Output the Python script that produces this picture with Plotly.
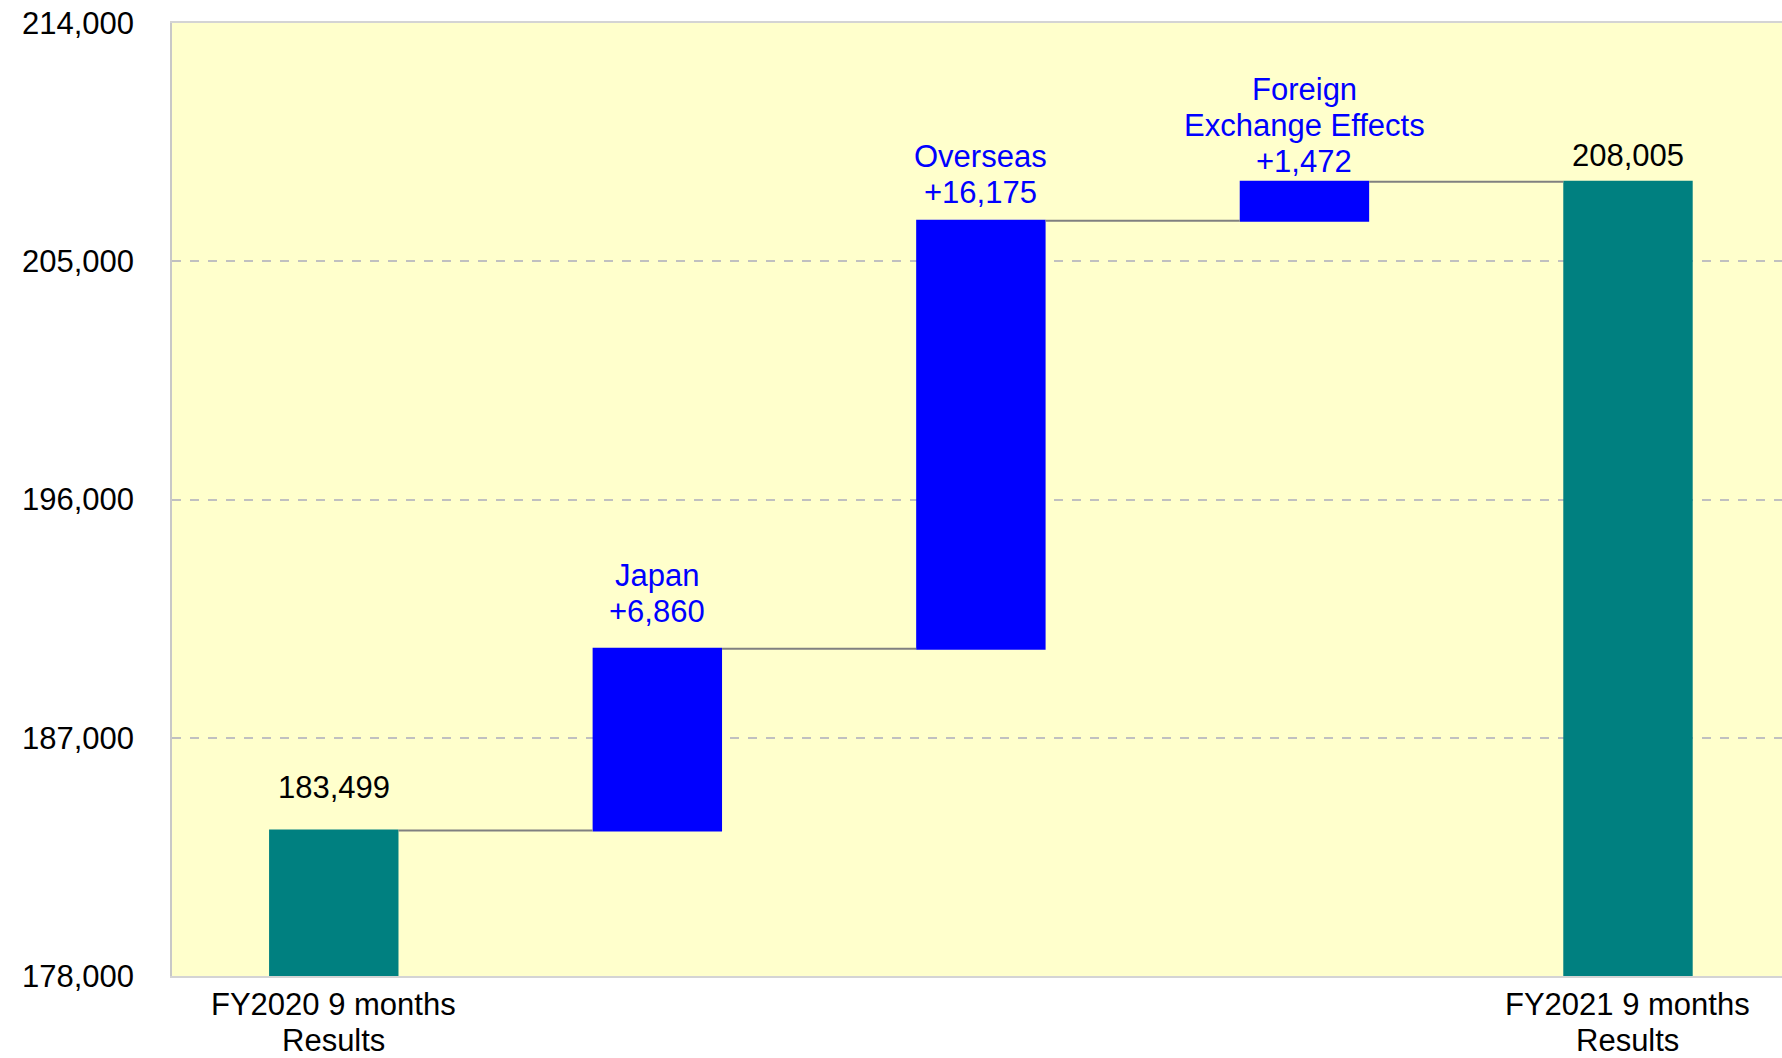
import plotly.graph_objects as go

# Net sales bridge: FY2020 9 months -> FY2021 9 months
categories = ["FY2020 9 months<br>Results", "Japan", "Overseas",
              "Foreign<br>Exchange Effects", "FY2021 9 months<br>Results"]
measures = ["absolute", "relative", "relative", "relative", "absolute"]
values = [183499, 6860, 16175, 1472, 208005]
y_ticks = [178000, 187000, 196000, 205000, 214000]

TEAL = "#008080"
BLUE = "#0000FF"
FONT = "Liberation Sans, Arial, sans-serif"
FS = 31
LINE_H = 36  # pixel spacing between stacked text lines

x = list(range(len(values)))

fig = go.Figure(go.Waterfall(
    x=x,
    y=values,
    measure=measures,
    increasing=dict(marker=dict(color=BLUE)),
    decreasing=dict(marker=dict(color=BLUE)),
    totals=dict(marker=dict(color=TEAL)),
    connector=dict(line=dict(color="#808080", width=2), mode="between"),
    hoverinfo="skip",
))

# running tops of each bar, used to place the value labels
tops = []
level = 0
for m, v in zip(measures, values):
    level = v if m == "absolute" else level + v
    tops.append(level)


def add_lines(lines, x0, y0, base_shift, color, yref="y"):
    """Stack text lines upward from base_shift (pixels, last line centre)."""
    n = len(lines)
    for k, line in enumerate(lines):
        fig.add_annotation(
            x=x0, y=y0, xref="x", yref=yref, text=line, showarrow=False,
            xanchor="center", yanchor="middle", borderpad=0,
            yshift=base_shift + (n - 1 - k) * LINE_H,
            font=dict(family=FONT, size=FS, color=color),
        )


# value labels above each bar (offset of the last line's centre, px)
label_shift = [43, 37, 28, 20, 26]
for i, (m, v, cat) in enumerate(zip(measures, values, categories)):
    if m == "absolute":
        add_lines([f"{v:,}"], i, tops[i], label_shift[i], "black")
    else:
        add_lines(cat.split("<br>") + [f"+{v:,}"], i, tops[i], label_shift[i], BLUE)

# category labels under the total bars
for i, (m, cat) in enumerate(zip(measures, categories)):
    if m == "absolute":
        add_lines(cat.split("<br>"), i, 0, -64, "black", yref="paper")

fig.update_layout(
    width=1782, height=1058,
    margin=dict(l=172, r=0, t=23, b=82),
    paper_bgcolor="white",
    plot_bgcolor="#FFFFCC",
    waterfallgap=0.6,
    showlegend=False,
    font=dict(family=FONT, size=FS, color="black"),
    xaxis=dict(
        range=[-0.5, 4.476],
        showticklabels=False, automargin=False,
        showgrid=False, zeroline=False,
        showline=True, linecolor="#D4D4D4", linewidth=2, mirror=True,
    ),
    yaxis=dict(
        range=[178000, 214000], automargin=False,
        tickmode="array", tickvals=y_ticks,
        ticktext=[f"{t:,}" for t in y_ticks],
        showgrid=True, gridcolor="#C0C0C0", gridwidth=1.5, griddash="dash",
        zeroline=False,
        showline=True, linecolor="#C8C8C8", linewidth=1.5,
        ticks="outside", ticklen=30, tickcolor="rgba(0,0,0,0)",
        tickfont=dict(family=FONT, size=FS, color="black"),
    ),
)

fig.write_html("out.html")
